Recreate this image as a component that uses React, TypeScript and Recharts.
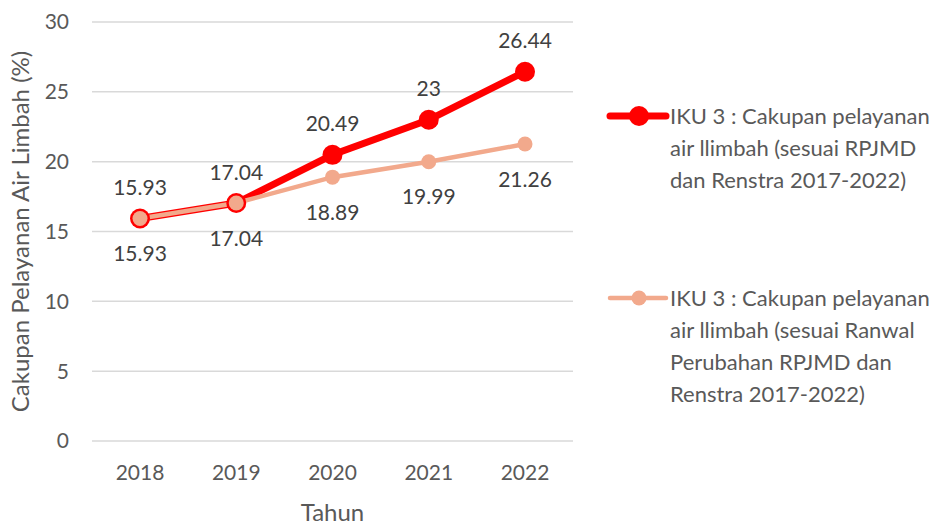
import { LineChart, Line, XAxis, YAxis, CartesianGrid, LabelList } from 'recharts';

const YEARS = ['2018', '2019', '2020', '2021', '2022'];
const RPJMD = [15.93, 17.04, 20.49, 23, 26.44];
const RANWAL = [15.93, 17.04, 18.89, 19.99, 21.26];
const Y_TICKS = [0, 5, 10, 15, 20, 25, 30];

const RPJMD_LINES = ['IKU 3 : Cakupan pelayanan', 'air llimbah (sesuai RPJMD', 'dan Renstra 2017-2022)'];
const RANWAL_LINES = [
  'IKU 3 : Cakupan pelayanan',
  'air llimbah (sesuai Ranwal',
  'Perubahan RPJMD dan',
  'Renstra 2017-2022)',
];

const RED = '#ff0000';
const SALMON = '#f2a98c';
const FONT = 'Lato, "Open Sans", sans-serif';

const data = YEARS.map((y, i) => ({ year: y, rpjmd: RPJMD[i], ranwal: RANWAL[i] }));

const labelAbove = (p: any) => (
  <text x={p.x} y={p.y - 32} textAnchor="middle" dominantBaseline="central" fill="#404040" fontSize={21}>
    {p.value}
  </text>
);
const labelBelow = (p: any) => (
  <text x={p.x} y={p.y + 34} textAnchor="middle" dominantBaseline="central" fill="#404040" fontSize={21}>
    {p.value}
  </text>
);

function LegendItem({ color, width, r, lines, top }: { color: string; width: number; r: number; lines: string[]; top: number }) {
  return (
    <div style={{ position: 'absolute', left: 606, top }}>
      <svg width={64} height={32} style={{ position: 'absolute', left: 0, top: 0 }}>
        <line x1={4} y1={16} x2={60} y2={16} stroke={color} strokeWidth={width} strokeLinecap="round" />
        <circle cx={33} cy={16} r={r} fill={color} />
      </svg>
      <div style={{ position: 'absolute', left: 64, top: 0, fontSize: 22, lineHeight: '32px', color: '#595959', whiteSpace: 'nowrap' }}>
        {lines.map((l) => <div key={l}>{l}</div>)}
      </div>
    </div>
  );
}

export default function App() {
  return (
    <div style={{ position: 'fixed', left: 0, top: 0, width: 933, height: 527, background: '#fff', fontFamily: FONT }}>
      <LineChart width={933} height={527} data={data} margin={{ top: 22, right: 360, bottom: 0, left: 0 }}>
        <CartesianGrid vertical={false} stroke="#d9d9d9" strokeWidth={1.5} />
        <XAxis
          dataKey="year"
          padding={{ left: 48, right: 48 }}
          height={86}
          axisLine={false}
          tickLine={false}
          tickSize={0}
          tickMargin={24}
          tick={{ fill: '#595959', fontSize: 21 }}
          label={{ value: 'Tahun', position: 'insideBottom', offset: 6, fill: '#595959', fontSize: 24 }}
        />
        <YAxis
          width={92}
          domain={[0, 30]}
          ticks={Y_TICKS}
          axisLine={false}
          tickLine={false}
          tickSize={0}
          tickMargin={23}
          tick={{ fill: '#595959', fontSize: 21 }}
          label={{
            value: 'Cakupan Pelayanan Air Limbah (%)',
            angle: -90,
            position: 'insideLeft',
            offset: 20,
            fill: '#595959',
            fontSize: 24,
            style: { textAnchor: 'middle' },
          }}
        />
        <Line
          dataKey="rpjmd"
          stroke={RED}
          strokeWidth={7}
          dot={{ r: 10, fill: RED, stroke: RED, strokeWidth: 0 }}
          activeDot={false}
          isAnimationActive={false}
        >
          <LabelList dataKey="rpjmd" content={labelAbove} />
        </Line>
        <Line
          dataKey="ranwal"
          stroke={SALMON}
          strokeWidth={4.5}
          dot={{ r: 7.5, fill: SALMON, stroke: SALMON, strokeWidth: 0 }}
          activeDot={false}
          isAnimationActive={false}
        >
          <LabelList dataKey="ranwal" content={labelBelow} />
        </Line>
      </LineChart>
      <LegendItem color={RED} width={7} r={10} lines={RPJMD_LINES} top={100} />
      <LegendItem color={SALMON} width={4.5} r={7.5} lines={RANWAL_LINES} top={282} />
    </div>
  );
}
